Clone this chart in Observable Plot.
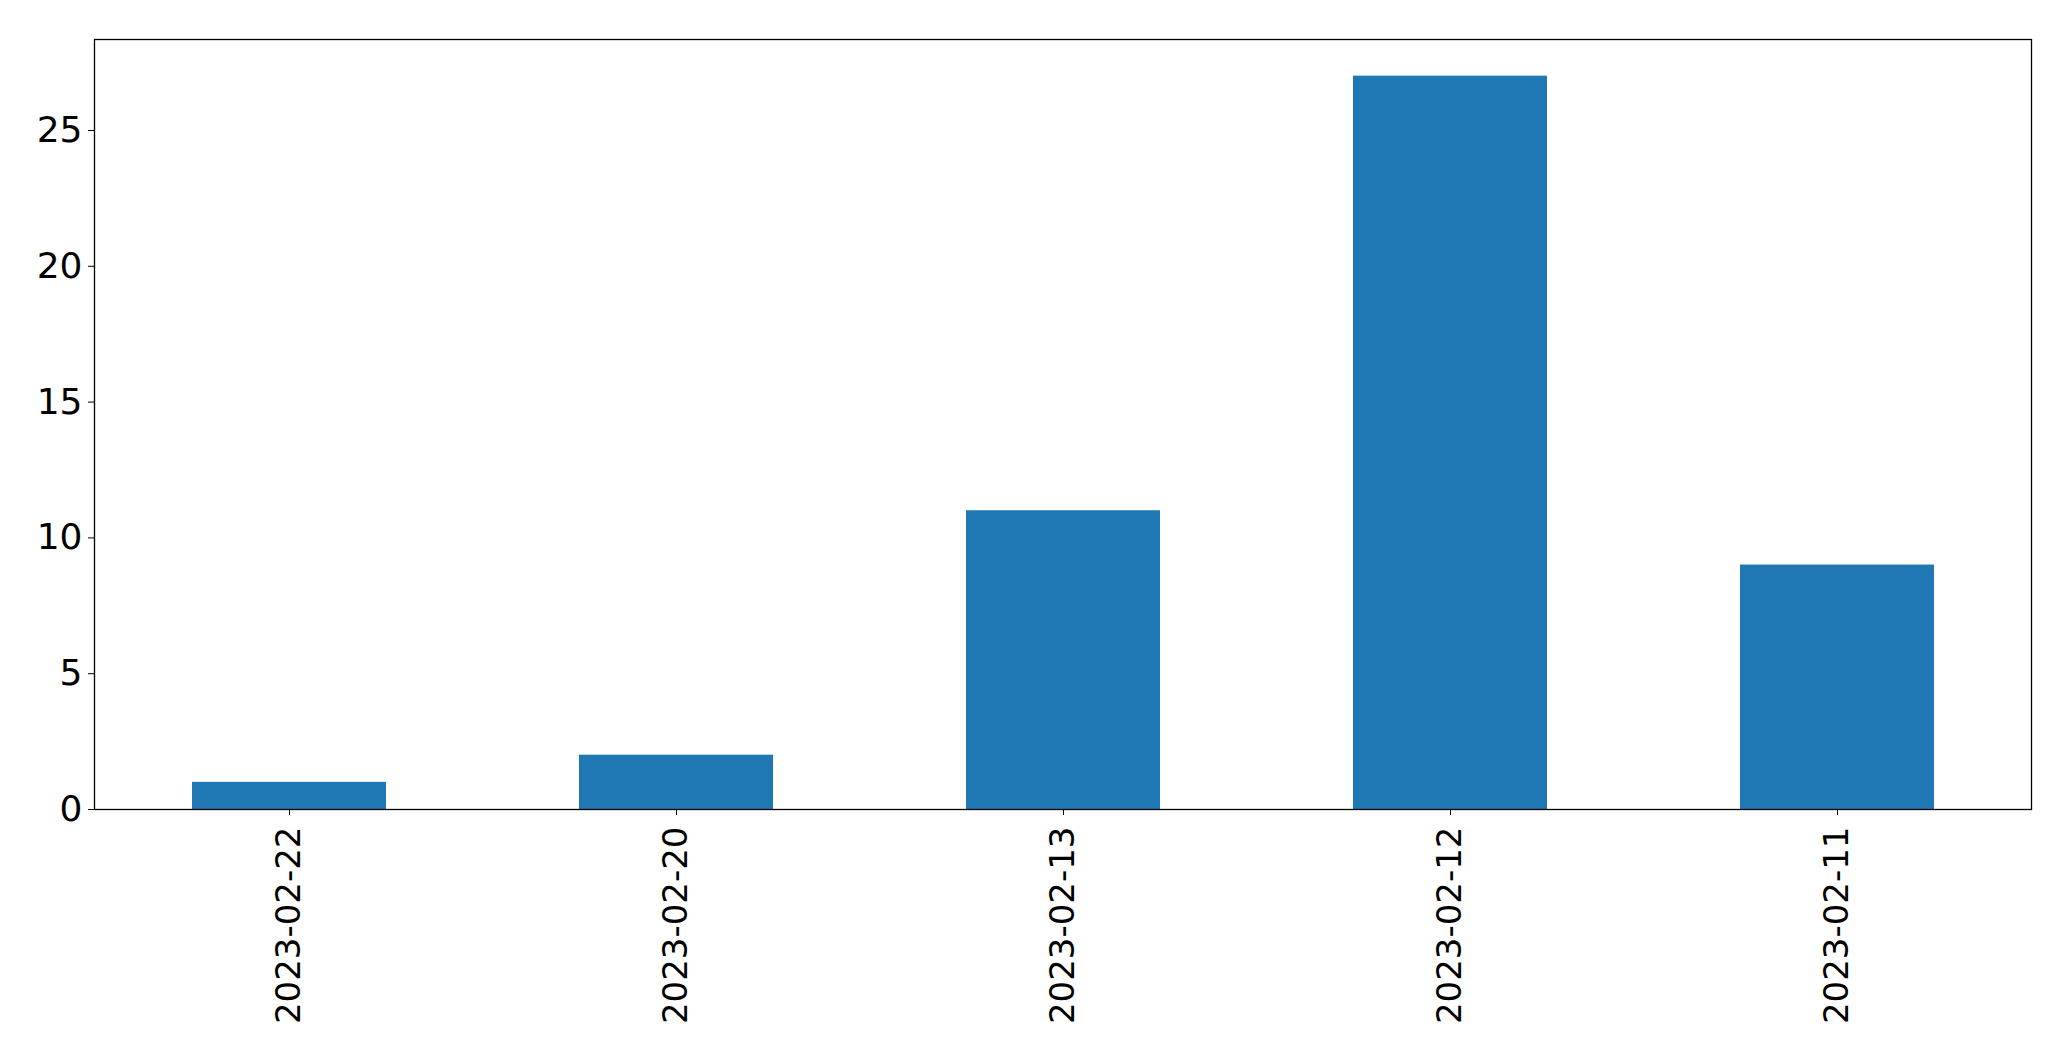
<!DOCTYPE html>
<html>
<head>
<meta charset="utf-8">
<script src="https://cdn.jsdelivr.net/npm/d3@7"></script>
<script src="https://cdn.jsdelivr.net/npm/@observablehq/plot@0.6"></script>
<style>
  html, body { margin: 0; padding: 0; background: #fff; }
  #chart svg { display: block; }
</style>
</head>
<body>
<div id="chart"></div>
<script>
const dates = ["2023-02-22", "2023-02-20", "2023-02-13", "2023-02-12", "2023-02-11"];
const counts = [1, 2, 11, 27, 9];
const yTicks = [0, 5, 10, 15, 20, 25];

const data = dates.map((d, i) => ({date: d, count: counts[i]}));
const yMax = d3.max(counts) * 1.05;

const chart = Plot.plot({
  width: 2071,
  height: 1061,
  marginLeft: 94,
  marginRight: 40,
  marginTop: 39,
  marginBottom: 252,
  style: {fontFamily: "'DejaVu Sans', sans-serif", fontSize: "35px", color: "#000", background: "#fff"},
  x: {domain: dates, paddingInner: 0.5, paddingOuter: 0.25, label: null},
  y: {domain: [0, yMax], label: null},
  marks: [
    Plot.barY(data, {x: "date", y: "count", fill: "#1f77b4"}),
    Plot.axisY({ticks: yTicks, tickSize: 6, tickPadding: 6, label: null, fontSize: 36}),
    Plot.axisX({tickSize: 6, tickPadding: 11, tickRotate: -90, label: null, fontSize: 34}),
    Plot.frame({stroke: "#000", strokeWidth: 1.3})
  ]
});
document.getElementById("chart").appendChild(chart);
</script>
</body>
</html>
